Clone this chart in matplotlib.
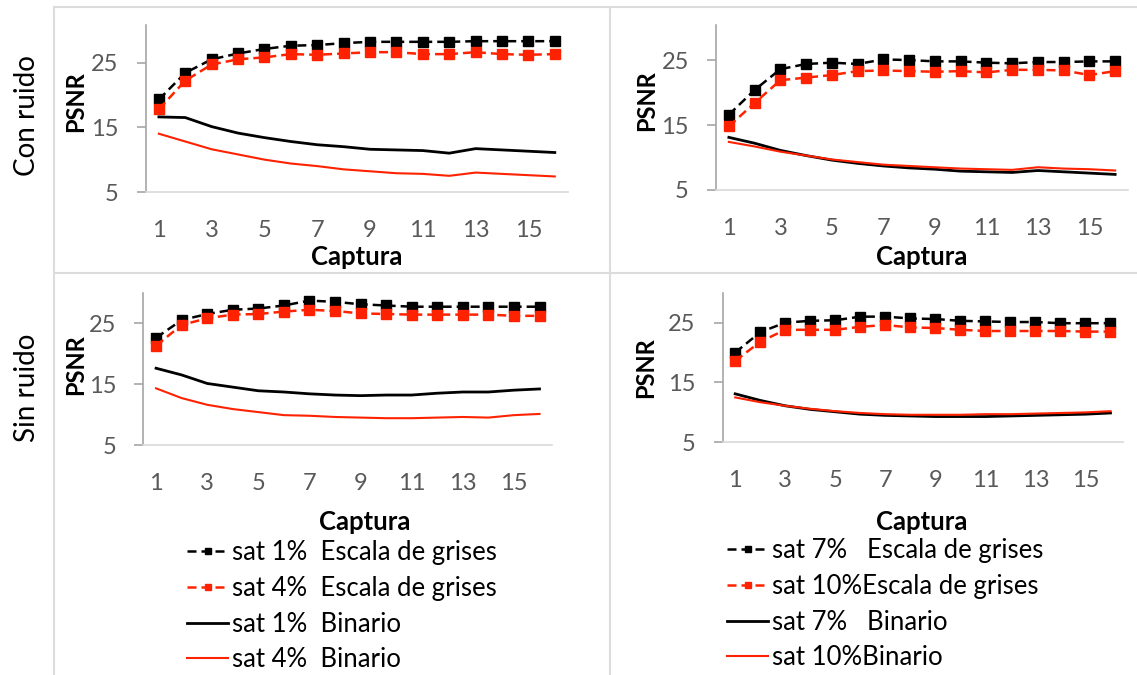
import matplotlib
matplotlib.use("Agg")
import matplotlib.pyplot as plt
from matplotlib.lines import Line2D

plt.rcParams['font.family'] = ['Lato', 'DejaVu Sans']

captura = list(range(1, 17))

# Con ruido, sat 1% / 4%
cr_gris_1 = [19.3, 23.4, 25.5, 26.4, 27.1, 27.6, 27.7, 28.0, 28.2, 28.2, 28.2, 28.2, 28.3, 28.3, 28.3, 28.3]
cr_gris_4 = [17.8, 22.2, 24.7, 25.5, 25.8, 26.3, 26.2, 26.4, 26.6, 26.6, 26.3, 26.3, 26.6, 26.3, 26.2, 26.3]
cr_bin_1 = [16.6, 16.5, 15.1, 14.1, 13.4, 12.8, 12.3, 12.0, 11.6, 11.5, 11.4, 11.0, 11.7, 11.5, 11.3, 11.1]
cr_bin_4 = [14.0, 12.8, 11.6, 10.8, 10.0, 9.4, 9.0, 8.5, 8.2, 7.9, 7.8, 7.5, 8.0, 7.8, 7.6, 7.4]

# Con ruido, sat 7% / 10%
cr_gris_7 = [16.6, 20.4, 23.6, 24.4, 24.6, 24.4, 25.1, 25.0, 24.8, 24.8, 24.6, 24.5, 24.7, 24.7, 24.8, 24.8]
cr_gris_10 = [14.8, 18.4, 21.9, 22.3, 22.7, 23.3, 23.4, 23.3, 23.2, 23.3, 23.1, 23.5, 23.5, 23.4, 22.7, 23.3]
cr_bin_7 = [13.1, 12.2, 11.1, 10.3, 9.6, 9.1, 8.7, 8.4, 8.2, 7.9, 7.8, 7.7, 8.0, 7.8, 7.6, 7.4]
cr_bin_10 = [12.4, 11.7, 10.9, 10.3, 9.7, 9.3, 8.9, 8.7, 8.5, 8.3, 8.2, 8.1, 8.5, 8.3, 8.2, 8.0]

# Sin ruido, sat 1% / 4%
sr_gris_1 = [22.6, 25.5, 26.5, 27.2, 27.4, 27.9, 28.7, 28.5, 28.1, 27.9, 27.7, 27.7, 27.7, 27.7, 27.7, 27.7]
sr_gris_4 = [21.3, 24.7, 25.8, 26.4, 26.5, 26.9, 27.2, 27.0, 26.6, 26.5, 26.4, 26.4, 26.4, 26.4, 26.2, 26.2]
sr_bin_1 = [17.6, 16.5, 15.1, 14.5, 13.9, 13.7, 13.4, 13.2, 13.1, 13.2, 13.2, 13.5, 13.7, 13.7, 14.0, 14.2]
sr_bin_4 = [14.3, 12.7, 11.6, 10.9, 10.4, 9.9, 9.8, 9.6, 9.5, 9.4, 9.4, 9.5, 9.6, 9.5, 9.9, 10.1]

# Sin ruido, sat 7% / 10%
sr_gris_7 = [20.0, 23.4, 25.0, 25.3, 25.4, 26.0, 26.0, 25.7, 25.6, 25.3, 25.2, 25.1, 25.1, 24.9, 24.9, 24.9]
sr_gris_10 = [18.6, 21.8, 23.8, 23.8, 23.8, 24.3, 24.6, 24.2, 24.1, 23.8, 23.6, 23.6, 23.6, 23.6, 23.5, 23.5]
sr_bin_7 = [13.1, 12.0, 11.1, 10.5, 10.1, 9.7, 9.5, 9.4, 9.3, 9.3, 9.3, 9.4, 9.5, 9.6, 9.7, 9.9]
sr_bin_10 = [12.5, 11.7, 11.1, 10.6, 10.2, 9.9, 9.7, 9.6, 9.6, 9.6, 9.7, 9.7, 9.8, 9.9, 10.0, 10.2]

ROJO = '#ff2200'
W, H = 1137, 675

fig = plt.figure(figsize=(W / 100, H / 100), dpi=100)

# marco de separacion entre paneles
gris_marco = '#dcdcdc'
def linea(x0, y0, x1, y1):
    fig.add_artist(Line2D([x0 / W, x1 / W], [1 - y0 / H, 1 - y1 / H],
                          color=gris_marco, lw=1.5, transform=fig.transFigure))
linea(54, 7, W, 7)
linea(54, 273, W, 273)
linea(54, 7, 54, H)
linea(610, 7, 610, H)


def panel(rect, datos, ymax, xlab_pos, ylab_pos):
    l, t, r, b = rect
    ax = fig.add_axes([l / W, 1 - b / H, (r - l) / W, (b - t) / H])
    g1, g2, b1, b2 = datos
    ax.plot(captura, g1, color='black', ls=(0, (3.6, 2)), lw=1.8,
            marker='s', ms=7, mec='black')
    ax.plot(captura, g2, color=ROJO, ls=(0, (3.6, 2)), lw=1.8,
            marker='s', ms=7, mec=ROJO)
    ax.plot(captura, b1, color='black', lw=2.0)
    ax.plot(captura, b2, color=ROJO, lw=1.5)
    ax.set_xlim(0.5, 16.5)
    ax.set_ylim(5, ymax)
    ax.set_yticks([5, 15, 25])
    ax.set_xticks(range(1, 16, 2))
    for s in ['top', 'right']:
        ax.spines[s].set_visible(False)
    ax.spines['left'].set_color('#a6a6a6')
    ax.spines['bottom'].set_color('#d9d9d9')
    ax.spines['left'].set_linewidth(1.2)
    ax.spines['bottom'].set_linewidth(1.2)
    ax.tick_params(axis='y', length=6.5, width=1.2, color='#a6a6a6', pad=13,
                   labelsize=17, labelcolor='#595959')
    ax.tick_params(axis='x', length=0, pad=20, labelsize=17, labelcolor='#595959')
    ax.set_xlabel('Captura', fontsize=18.5, fontweight='bold')
    ax.xaxis.set_label_coords(*xlab_pos)
    ax.xaxis.label.set_va('top')
    ax.set_ylabel('PSNR', fontsize=17, fontweight='bold')
    ax.yaxis.set_label_coords(*ylab_pos)
    return ax


ax1 = panel((145.7, 25, 568, 192), (cr_gris_1, cr_gris_4, cr_bin_1, cr_bin_4),
            30.8, (0.5, -0.32), (-0.139, 0.54))
ax2 = panel((716, 25, 1128, 190), (cr_gris_7, cr_gris_10, cr_bin_7, cr_bin_10),
            30.4, (0.5, -0.335), (-0.14, 0.54))
ax3 = panel((143.3, 293.3, 552.3, 445), (sr_gris_1, sr_gris_4, sr_bin_1, sr_bin_4),
            29.9, (0.542, -0.43), (-0.137, 0.53))
ax4 = panel((722.7, 293.3, 1123, 442.3), (sr_gris_7, sr_gris_10, sr_bin_7, sr_bin_10),
            29.9, (0.498, -0.455), (-0.165, 0.5))

fig.text(27 / W, 1 - 116 / H, 'Con ruido', rotation=90, ha='center', va='center', fontsize=20)
fig.text(27 / W, 1 - 388 / H, 'Sin ruido', rotation=90, ha='center', va='center', fontsize=20)

etiquetas_izq = ['sat 1%  Escala de grises', 'sat 4%  Escala de grises',
                 'sat 1%  Binario', 'sat 4%  Binario']
etiquetas_der = ['sat 7%   Escala de grises', 'sat 10%Escala de grises',
                 'sat 7%   Binario', 'sat 10%Binario']

opciones_leyenda = dict(loc='upper left', frameon=False, fontsize=18.5,
                        handlelength=1.6, handletextpad=0.16, labelspacing=0.42,
                        borderpad=0, borderaxespad=0, markerscale=0.7)
fig.legend(ax3.get_lines(), etiquetas_izq,
           bbox_to_anchor=(187 / W, 1 - 540 / H), **opciones_leyenda)
fig.legend(ax4.get_lines(), etiquetas_der,
           bbox_to_anchor=(727 / W, 1 - 538 / H), **opciones_leyenda)

fig.savefig('out.png', dpi=100)
